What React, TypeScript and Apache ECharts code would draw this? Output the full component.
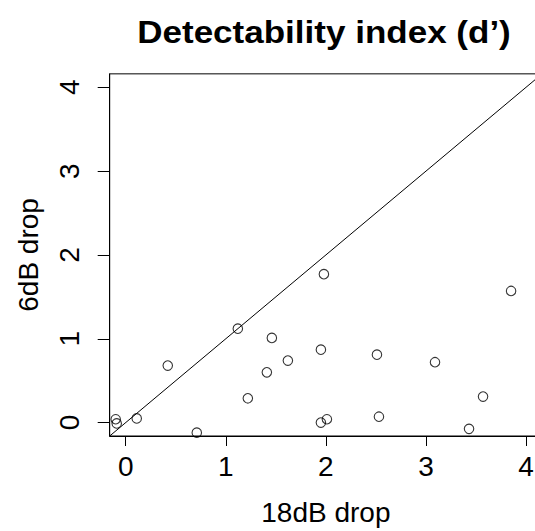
import React, { useEffect, useRef } from "react";
import * as echarts from "echarts";

const xValues = [-0.10, -0.09, 0.11, 0.42, 0.71, 1.12, 1.22, 1.41, 1.46, 1.62, 1.95, 1.98, 1.95, 2.01, 2.51, 2.53, 3.09, 3.43, 3.57, 3.85];
const yValues = [0.04, -0.01, 0.05, 0.68, -0.12, 1.12, 0.29, 0.60, 1.01, 0.74, 0.87, 1.77, 0.0, 0.04, 0.81, 0.07, 0.72, -0.075, 0.31, 1.57];
const tickValues = [0, 1, 2, 3, 4];
const axisMin = -0.16;
const axisMax = 4.16;
const titleText = "Detectability index (d\u2019)";
const xName = "18dB drop";
const yName = "6dB drop";

const FONT = "'Liberation Sans', Arial, Helvetica, sans-serif";

export default function App() {
  const ref = useRef<HTMLDivElement>(null);
  useEffect(() => {
    if (!ref.current) return;
    const chart = echarts.init(ref.current, undefined, { renderer: "svg" });
    const points = xValues.map((x, i) => [x, yValues[i]]);
    chart.setOption({
      animation: false,
      backgroundColor: "#fff",
      textStyle: { fontFamily: FONT },
      graphic: [
        {
          type: "text",
          x: 324,
          y: 17,
          scaleX: 1.13,
          originX: 0,
          originY: 0,
          style: {
            text: titleText,
            fontFamily: FONT,
            fontWeight: "bold",
            fontSize: 31,
            fill: "#000",
            align: "center",
            verticalAlign: "top",
          },
        },
      ],
      grid: {
        left: 109.7,
        right: 2.9,
        top: 73.85,
        bottom: 93.5,
        show: true,
        borderColor: "#000",
        borderWidth: 1,
        backgroundColor: "transparent",
      },
      xAxis: {
        type: "value",
        min: axisMin,
        max: axisMax,
        name: xName,
        nameLocation: "middle",
        nameGap: 62,
        nameTextStyle: { fontSize: 28, color: "#000", fontFamily: FONT },
        splitLine: { show: false },
        axisLine: { show: true, onZero: false, lineStyle: { color: "#000", width: 1 } },
        axisTick: { show: true, length: 10, customValues: tickValues, lineStyle: { color: "#000" } },
        axisLabel: { show: true, customValues: tickValues, fontSize: 28, color: "#000", margin: 16, fontFamily: FONT },
      },
      yAxis: {
        type: "value",
        min: axisMin,
        max: axisMax,
        name: yName,
        nameLocation: "middle",
        nameGap: 67,
        nameTextStyle: { fontSize: 28, color: "#000", fontFamily: FONT },
        splitLine: { show: false },
        axisLine: { show: true, onZero: false, lineStyle: { color: "#000", width: 1 } },
        axisTick: { show: true, length: 12, customValues: tickValues, lineStyle: { color: "#000" } },
        axisLabel: { show: true, customValues: tickValues, rotate: 90, fontSize: 28, color: "#000", margin: 26, fontFamily: FONT },
      },
      series: [
        {
          type: "line",
          data: [[axisMin, axisMin], [axisMax, axisMax]],
          symbol: "none",
          lineStyle: { color: "#000", width: 1 },
          clip: true,
          silent: true,
        },
        {
          type: "scatter",
          data: points,
          symbol: "circle",
          symbolSize: 9.5,
          itemStyle: { color: "rgba(0,0,0,0)", borderColor: "#000", borderWidth: 1.1 },
        },
      ],
    });
    return () => chart.dispose();
  }, []);
  return (
    <div
      ref={ref}
      style={{ position: "fixed", left: 0, top: 0, width: 545, height: 531, background: "#fff" }}
    />
  );
}
